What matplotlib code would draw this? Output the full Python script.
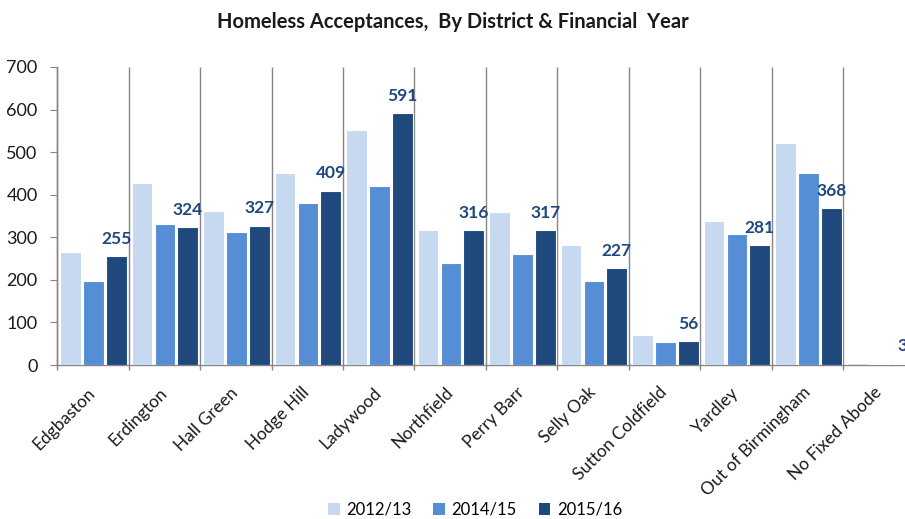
import matplotlib
matplotlib.use("Agg")
import matplotlib.pyplot as plt
import numpy as np
from matplotlib.patches import Patch

plt.rcParams['font.family'] = ['Lato', 'DejaVu Sans']

districts = ["Edgbaston", "Erdington", "Hall Green", "Hodge Hill", "Ladywood",
             "Northfield", "Perry Barr", "Selly Oak", "Sutton Coldfield",
             "Yardley", "Out of Birmingham", "No Fixed Abode"]
years = ["2012/13", "2014/15", "2015/16"]
v_2012_13 = [266, 428, 361, 450, 553, 317, 359, 283, 70, 339, 521, 4]
v_2014_15 = [198, 331, 313, 381, 420, 240, 261, 197, 55, 307, 452, 2]
v_2015_16 = [255, 324, 327, 409, 591, 316, 317, 227, 56, 281, 368, 3]
yticks = [0, 100, 200, 300, 400, 500, 600, 700]

colors = ["#C6D9F1", "#558ED5", "#1F497D"]
grey = "#868686"
text_col = "#1a1a1a"

fig = plt.figure(figsize=(9.05, 5.19), dpi=100)
ax = fig.add_axes([0.063, 0.2967, 1.011 - 0.063, 0.871 - 0.2967])

x = np.arange(len(districts))
step = 0.32
width = 0.29
series = [v_2012_13, v_2014_15, v_2015_16]
for i, (vals, c) in enumerate(zip(series, colors)):
    ax.bar(x + (i - 1) * step + 0.01, vals, width=width, color=c,
           edgecolor="white", linewidth=0.8, zorder=3)

# value labels on the latest year
for xi, v in zip(x, v_2015_16):
    ax.annotate(str(v), (xi + step + 0.01, v), xytext=(0, 9),
                textcoords="offset points", ha="center", va="baseline",
                fontsize=12.5, fontweight="bold", color="#1F497D",
                annotation_clip=False, zorder=4)

ax.set_xlim(-0.5, len(districts) - 0.5)
ax.set_ylim(0, 700)

# category separators with small tick extensions below the axis
bounds = np.arange(len(districts) + 1) - 0.5
ax.vlines(bounds, -12, 700, color=grey, linewidth=1, clip_on=False, zorder=2)

for s in ["top", "right"]:
    ax.spines[s].set_visible(False)
ax.spines["left"].set_color(grey)
ax.spines["bottom"].set_color(grey)
ax.spines["left"].set_linewidth(1)
ax.spines["bottom"].set_linewidth(1)

ax.set_yticks(yticks)
ax.set_yticklabels([str(t) for t in yticks], fontsize=13, color=text_col)
ax.tick_params(axis="y", length=5, color=grey, pad=9)

ax.set_xticks(x)
ax.set_xticklabels(districts, rotation=45, ha="right", va="center",
                   rotation_mode="anchor", fontsize=12.5, color=text_col)
ax.tick_params(axis="x", length=0, pad=18)

fig.text(0.5, 0.958, "Homeless Acceptances,  By District & Financial  Year",
         ha="center", va="center", fontsize=14.5, fontweight="bold", color=text_col)

handles = [Patch(facecolor=c, edgecolor="none") for c in colors]
fig.legend(handles, years, loc="center", bbox_to_anchor=(0.525, 0.018),
           ncol=3, frameon=False, fontsize=12, handlelength=0.7,
           handleheight=0.7, handletextpad=0.4, columnspacing=1.3)

fig.savefig("out.png", dpi=100)
